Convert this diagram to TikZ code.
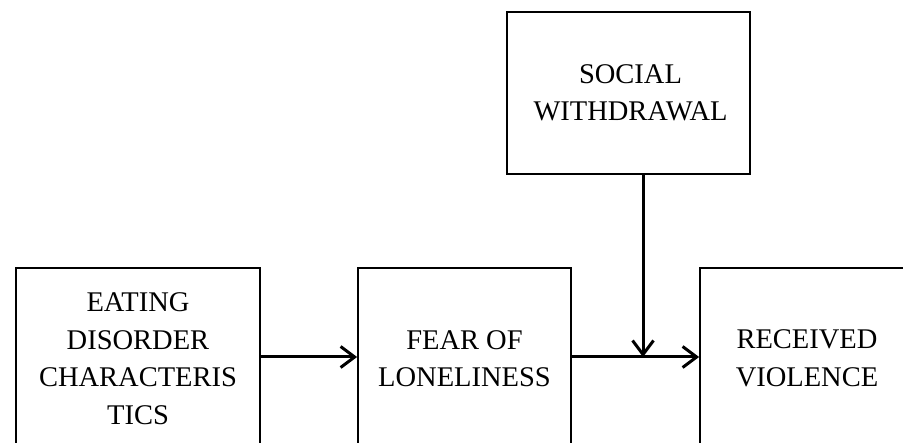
\documentclass[tikz,border=0pt]{standalone}
\usepackage{fontspec}
\setmainfont{Liberation Serif}
\usetikzlibrary{arrows.meta}
\begin{document}
\begin{tikzpicture}[x=1pt,y=-1pt,
  box/.style={draw=black,line width=1.8pt,inner sep=0pt,minimum width=#1},
  lbl/.style={align=center,inner sep=0pt,font=\fontsize{28.5}{37.5}\selectfont,text=black},
  arr/.style={line width=3pt,-{Straight Barb[length=14pt,width=21pt,line width=3pt]}}]
\useasboundingbox (0,0) rectangle (903,443);
\clip (0,0) rectangle (903,443);
\node[box=244pt,minimum height=181pt] (ed) at (138,358.5) {};
\node[box=213pt,minimum height=181pt] (fol) at (464.5,358.5) {};
\node[box=214pt,minimum height=181pt] (rv) at (807,358.5) {};
\node[box=243pt,minimum height=162pt] (sw) at (628.5,93) {};
\node[lbl] (edt) at (ed) {EATING\\DISORDER\\CHARACTERIS\\TICS};
\node[lbl] (folt) at (fol) {FEAR OF\\LONELINESS};
\node[lbl] (rvt) at (rv) {RECEIVED\\VIOLENCE};
\node[lbl] (swt) at (630.5,93) {SOCIAL\\WITHDRAWAL};
\coordinate (j) at (643,357);
\draw[arr] (ed.east |- j) -- (fol.west |- j);
\draw[arr] (fol.east |- j) -- (rv.west |- j);
\draw[arr] (sw.south -| j) -- (j);
\end{tikzpicture}
\end{document}
